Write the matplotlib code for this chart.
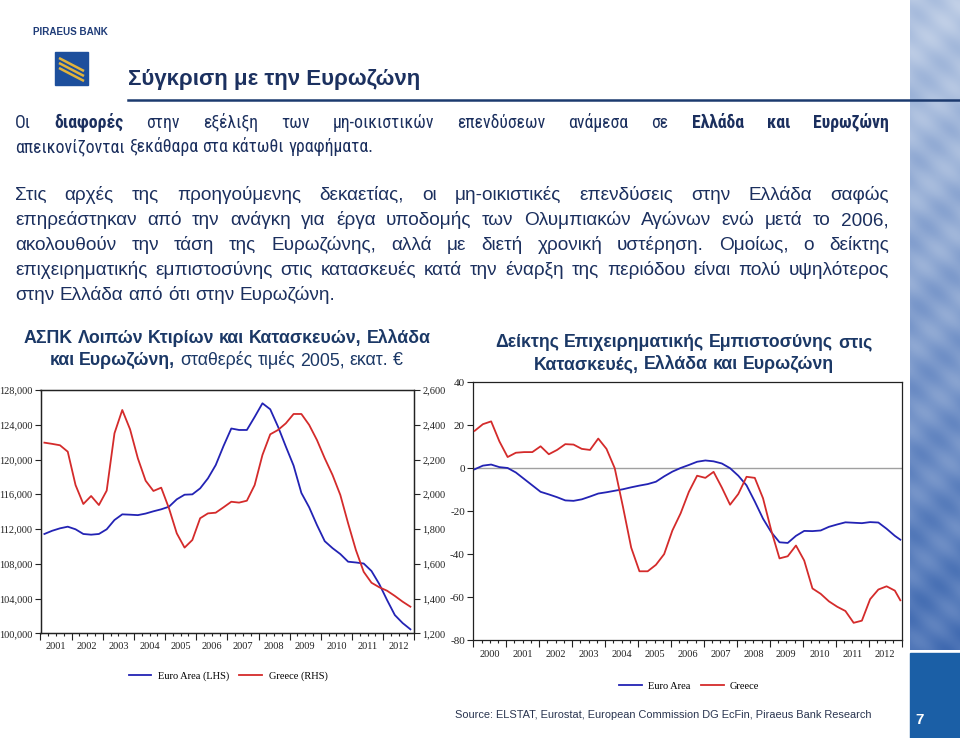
import numpy as np
import matplotlib
matplotlib.use('Agg')
import matplotlib.pyplot as plt
import matplotlib.transforms as mtransforms
from matplotlib.lines import Line2D
from matplotlib.patches import Rectangle
from matplotlib.colors import LinearSegmentedColormap

plt.rcParams['axes.unicode_minus'] = False

# ---------------- data ----------------
# Left chart: non-residential construction GFCF, quarterly 2001Q1..2012Q4
gfcf_quarters = list(range(48))
gfcf_euro_area = [111430, 111800, 112080, 112270, 111970, 111430, 111350, 111430,
                  111970, 113040, 113690, 113650, 113600, 113780, 114040, 114270,
                  114570, 115420, 115950, 115990, 116680, 117830, 119360, 121550,
                  123570, 123400, 123400, 124900, 126470, 125780, 123780, 121500,
                  119300, 116150, 114500, 112460, 110600, 109800, 109120, 108240,
                  108150, 108030, 107170, 105670, 103830, 102100, 101180, 100460]
gfcf_greece = [2297, 2290, 2282, 2245, 2053, 1944, 1990, 1938, 2021, 2351,
               2485, 2374, 2207, 2078, 2019, 2038, 1919, 1775, 1693, 1737,
               1862, 1890, 1894, 1925, 1957, 1952, 1963, 2053, 2226, 2345,
               2370, 2408, 2462, 2462, 2399, 2312, 2207, 2111, 1996, 1833,
               1679, 1554, 1491, 1465, 1445, 1415, 1382, 1353]
gfcf_years = [str(y) for y in range(2001, 2013)]
gfcf_left_ticks = list(range(100000, 128001, 4000))
gfcf_right_ticks = list(range(1200, 2601, 200))

# Right chart: construction confidence indicator (months since Jan 2000)
conf_months = list(range(0, 156, 3)) + [155]
conf_euro_area = [-0.5, 1.2, 1.7, 0.5, 0.1, -2.0, -5.0, -8.0, -11.0, -12.2,
                  -13.5, -15.0, -15.2, -14.5, -13.2, -11.8, -11.2, -10.5, -9.8, -8.9,
                  -8.1, -7.4, -6.3, -3.8, -1.6, 0.1, 1.5, 3.0, 3.6, 3.2,
                  2.2, 0.0, -3.5, -8.0, -15.5, -23.5, -29.8, -34.5, -34.8, -31.5,
                  -29.2, -29.3, -29.0, -27.3, -26.2, -25.2, -25.4, -25.6, -25.1, -25.3,
                  -28.2, -31.5, -33.3]
conf_greece = [17.4, 20.5, 21.8, 12.5, 5.2, 7.2, 7.5, 7.5, 10.2, 6.5,
               8.5, 11.2, 11.0, 9.0, 8.5, 13.8, 9.0, 0.0, -18, -37,
               -48, -48, -45, -40, -29, -21, -11, -3.5, -4.5, -1.7,
               -9, -17, -12, -4, -4.5, -14, -29, -42, -41, -36,
               -43, -56, -58.5, -62, -64.5, -66.5, -72, -71, -61, -56.5,
               -55, -57, -61.5]
conf_years = [str(y) for y in range(2000, 2013)]
conf_ticks = list(range(-80, 41, 20))

# ---------------- figure ----------------
W, H = 960, 738
fig = plt.figure(figsize=(9.6, 7.38), dpi=100)
fig.patch.set_facecolor('white')
renderer = fig.canvas.get_renderer()

def rect(x0, y0, x1, y1):
    return [x0 / W, 1 - y1 / H, (x1 - x0) / W, (y1 - y0) / H]

def fx(x):
    return x / W

def fy(y):
    return 1 - y / H

SANS = ['Liberation Sans', 'DejaVu Sans']
NARROW = ['Roboto Condensed', 'Liberation Sans', 'DejaVu Sans']
SERIF = ['Liberation Serif', 'DejaVu Serif']
NAVY = '#1b2f5e'
TNAVY = '#1b3866'
BLUE = '#2323b4'
RED = '#d42b2b'

def twidth(s, size, family, weight='normal'):
    t = fig.text(0, 0, s, fontsize=size, family=family, weight=weight)
    w = t.get_window_extent(renderer).width
    t.remove()
    return w

def fit_size(s, target, family, weight='normal'):
    return 10 * target / twidth(s, 10, family, weight)

def draw_runs(runs, x, y, size, family, color, align='left', justify_to=None):
    words = []
    for txt, wt in runs:
        for w in txt.split(' '):
            if w:
                words.append((w, wt))
    objs = [fig.text(0, 0, w, fontsize=size, family=family, weight=wt,
                     color=color, va='baseline', ha='left') for w, wt in words]
    widths = [o.get_window_extent(renderer).width for o in objs]
    sp = twidth('a a', size, family) - twidth('aa', size, family)
    total = sum(widths) + sp * (len(words) - 1)
    if justify_to is not None and len(words) > 1:
        gap = (justify_to - x - sum(widths)) / (len(words) - 1)
        cur = x
    else:
        gap = sp
        cur = x if align == 'left' else x - total / 2
    for o, w in zip(objs, widths):
        o.set_position((fx(cur), fy(y)))
        cur += w + gap

# ---------------- decorative strip ----------------
sax = fig.add_axes(rect(910, 0, 960, 650))
yy, xx = np.mgrid[0:1:650j, 0:1:50j]
pattern = 0.15 + 0.75 * yy + 0.06 * np.sin(55 * yy + 4 * xx) + 0.04 * np.sin(140 * yy - 9 * xx)
cm = LinearSegmentedColormap.from_list('water', ['#c9d6ea', '#9fb5d9', '#6f8fc6', '#3f69b0'])
sax.imshow(pattern, cmap=cm, aspect='auto', vmin=0, vmax=1)
sax.axis('off')
fig.patches.append(Rectangle((fx(910), 0), fx(50), fy(653), transform=fig.transFigure,
                             color='#1b5fa6', zorder=1))
fig.text(fx(920), fy(724), '7', color='white', fontsize=11, weight='bold', family=SANS,
         ha='center', va='baseline')

# ---------------- header ----------------
fig.text(fx(33), fy(35), 'PIRAEUS BANK', fontsize=fit_size('PIRAEUS BANK', 75, SANS, 'bold'),
         family=SANS, weight='bold', color='#1f3c78', va='baseline')
fig.patches.append(Rectangle((fx(55), fy(85)), fx(33), 33 / H, transform=fig.transFigure,
                             color='#1d4f9c', zorder=2))
for off in (-5, 0, 5):
    fig.lines.append(Line2D([fx(59), fx(84)], [fy(63 + off), fy(76 + off)],
                            transform=fig.transFigure, color='#e2b43c', lw=1.8,
                            solid_capstyle='butt', zorder=3))
title = 'Σύγκριση με την Ευρωζώνη'
fig.text(fx(128), fy(85), title, fontsize=fit_size(title, 292, SANS, 'bold'),
         family=SANS, weight='bold', color='#1c3160', va='baseline')
fig.lines.append(Line2D([fx(128), 1], [fy(100), fy(100)], transform=fig.transFigure,
                        color='#1c3a6e', lw=1.8))

# ---------------- body text ----------------
L, R = 15, 889
line2 = 'απεικονίζονται ξεκάθαρα στα κάτωθι γραφήματα.'
BS1 = fit_size(line2, 355, NARROW)
draw_runs([('Οι ', 'normal'), ('διαφορές', 'bold'),
           (' στην εξέλιξη των μη-οικιστικών επενδύσεων ανάμεσα σε ', 'normal'),
           ('Ελλάδα και Ευρωζώνη', 'bold')], L, 128, BS1, NARROW, NAVY, justify_to=R)
draw_runs([(line2, 'normal')], L, 152, BS1, NARROW, NAVY)
line7 = 'στην Ελλάδα από ότι στην Ευρωζώνη.'
BS2 = fit_size(line7, 323, SANS)
para = ['Στις αρχές της προηγούμενης δεκαετίας, οι μη-οικιστικές επενδύσεις στην Ελλάδα σαφώς',
        'επηρεάστηκαν από την ανάγκη για έργα υποδομής των Ολυμπιακών Αγώνων ενώ μετά το 2006,',
        'ακολουθούν την τάση της Ευρωζώνης, αλλά με διετή χρονική υστέρηση. Ομοίως, ο δείκτης',
        'επιχειρηματικής εμπιστοσύνης στις κατασκευές κατά την έναρξη της περιόδου είναι πολύ υψηλότερος']
for i, line in enumerate(para):
    draw_runs([(line, 'normal')], L, 200 + 25 * i, BS2, SANS, NAVY, justify_to=R)
draw_runs([(line7, 'normal')], L, 300, BS2, SANS, NAVY)

# ---------------- chart titles ----------------
t1 = 'ΑΣΠΚ Λοιπών Κτιρίων και Κατασκευών, Ελλάδα'
CTS = fit_size(t1, 406, SANS, 'bold')
draw_runs([(t1, 'bold')], 227, 343, CTS, SANS, TNAVY, align='center')
draw_runs([('και Ευρωζώνη,', 'bold'), (' σταθερές τιμές 2005, εκατ. €', 'normal')],
          226, 365, CTS, SANS, TNAVY, align='center')
draw_runs([('Δείκτης Επιχειρηματικής Εμπιστοσύνης στις', 'bold')], 684, 347, CTS, SANS, TNAVY, align='center')
draw_runs([('Κατασκευές, Ελλάδα και Ευρωζώνη', 'bold')], 684, 369, CTS, SANS, TNAVY, align='center')

# ---------------- left chart ----------------
TFS = 7.5
def style_axes(ax):
    for s in ax.spines.values():
        s.set_color('#222222')
        s.set_linewidth(0.9)
    ax.tick_params(axis='both', which='both', direction='out', colors='#222222',
                   width=0.8, labelsize=TFS)
    ax.tick_params(axis='y', length=4, pad=2)
    for lab in ax.get_yticklabels() + ax.get_xticklabels():
        lab.set_fontfamily(SERIF)

axL = fig.add_axes(rect(40.5, 390, 414.3, 633.3))
gx = [2001 + (q + 0.5) / 4 for q in gfcf_quarters]
l1, = axL.plot(gx, gfcf_euro_area, color=BLUE, lw=1.3)
axL.set_xlim(2001, 2013)
axL.set_ylim(100000, 128000)
axL.set_yticks(gfcf_left_ticks)
axL.set_yticklabels([f'{v:,}' for v in gfcf_left_ticks])
axL.set_xticks(range(2001, 2014))
axL.set_xticklabels([])
axL.set_xticks(np.arange(2001, 2013.01, 0.25), minor=True)
axL2 = axL.twinx()
l2, = axL2.plot(gx, gfcf_greece, color=RED, lw=1.3)
axL2.set_ylim(1200, 2600)
axL2.set_yticks(gfcf_right_ticks)
axL2.set_yticklabels([f'{v:,}' for v in gfcf_right_ticks])
style_axes(axL)
style_axes(axL2)
axL.tick_params(axis='x', which='major', length=5)
axL.tick_params(axis='x', which='minor', length=2.5)
trL = mtransforms.blended_transform_factory(axL.transData, fig.transFigure)
for i, y in enumerate(gfcf_years):
    axL.text(2001 + i + 0.5, fy(649), y, transform=trL, ha='center', va='baseline',
             fontsize=TFS, family=SERIF, color='#222222')
fig.legend([l1, l2], ['Euro Area (LHS)', 'Greece (RHS)'], loc='center',
           bbox_to_anchor=(fx(228), fy(676)), ncol=2, frameon=False,
           prop={'family': SERIF, 'size': TFS}, handlelength=2.2,
           handletextpad=0.6, columnspacing=1.0)

# ---------------- right chart ----------------
axR = fig.add_axes(rect(473.3, 382.3, 901.7, 640))
cx = [2000 + (m + 0.5) / 12 for m in conf_months]
axR.axhline(0, color='#a0a0a0', lw=1.0, zorder=1)
r1, = axR.plot(cx, conf_euro_area, color=BLUE, lw=1.3, zorder=3)
r2, = axR.plot(cx, conf_greece, color=RED, lw=1.3, zorder=3)
axR.set_xlim(2000, 2013)
axR.set_ylim(-80, 40)
axR.set_yticks(conf_ticks)
axR.set_yticklabels([str(v) for v in conf_ticks])
axR.set_xticks(range(2000, 2014))
axR.set_xticklabels([])
axR.set_xticks(np.arange(2000, 2013.01, 0.25), minor=True)
style_axes(axR)
axR.tick_params(axis='y', labelsize=8)
axR.tick_params(axis='x', which='major', length=5)
axR.tick_params(axis='x', which='minor', length=2.5)
trR = mtransforms.blended_transform_factory(axR.transData, fig.transFigure)
for i, y in enumerate(conf_years):
    axR.text(2000 + i + 0.5, fy(657), y, transform=trR, ha='center', va='baseline',
             fontsize=TFS, family=SERIF, color='#222222')
fig.legend([r1, r2], ['Euro Area', 'Greece'], loc='center',
           bbox_to_anchor=(fx(689), fy(686)), ncol=2, frameon=False,
           prop={'family': SERIF, 'size': TFS}, handlelength=2.2,
           handletextpad=0.6, columnspacing=1.0)

# ---------------- source ----------------
src = 'Source: ELSTAT, Eurostat, European Commission DG EcFin, Piraeus Bank Research'
fig.text(fx(455), fy(718), src, fontsize=fit_size(src, 418, SANS), family=SANS,
         color='#2a3550', va='baseline')

fig.savefig('out.png', dpi=100)
